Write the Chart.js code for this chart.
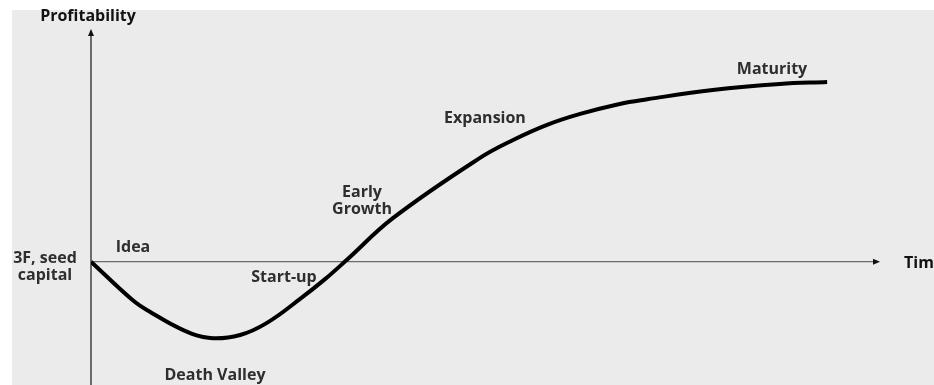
<!DOCTYPE html>
<html>
<head>
<meta charset="utf-8">
<script src="https://cdn.jsdelivr.net/npm/chart.js@4"></script>
<style>
  html, body { margin: 0; padding: 0; background: #fff; }
  #wrap { width: 934px; height: 385px; position: relative; }
</style>
</head>
<body>
<div id="wrap"><canvas id="chartStages"></canvas></div>
<script>
// Startup life cycle: profitability over time
const timeValues = [0, 5.3, 7.5, 11.7, 15.1, 18.9, 22.3, 26.5, 29.7, 32.4, 38.3, 49.3, 53.5, 57.8, 62.0, 67.0, 70.5, 78.8, 87.3, 93.3];
const profitValues = [0, -16.6, -21.6, -29.4, -32.8, -31.5, -26.3, -16.0, -7.4, 0.7, 18.8, 44.6, 52.3, 58.8, 63.5, 67.8, 69.8, 73.8, 76.4, 77.2];
const axisTitles = ['Time', 'Profitability'];
const stageNames = ['Idea', '3F, seed\ncapital', 'Start-up', 'Death Valley', 'Early\nGrowth', 'Expansion', 'Maturity'];

const LABEL_FONT = 'bold 16px "Open Sans", "DejaVu Sans", sans-serif';

// gray panel behind everything
const backdrop = {
  id: 'backdrop',
  beforeDraw(chart) {
    const { ctx, width, height } = chart;
    ctx.save();
    ctx.fillStyle = '#fff';
    ctx.fillRect(0, 0, width, height);
    ctx.fillStyle = '#ebebeb';
    ctx.fillRect(12, 10, width - 12, height - 10);
    ctx.restore();
  }
};

// arrows for both axes, placed from the scales
const arrowAxes = {
  id: 'arrowAxes',
  beforeDatasetsDraw(chart) {
    const { ctx, scales: { x, y } } = chart;
    const x0 = x.getPixelForValue(0);
    const y0 = y.getPixelForValue(0);
    const xEnd = x.getPixelForValue(x.max);
    const yTop = y.getPixelForValue(y.max);
    const yBot = y.getPixelForValue(y.min);
    ctx.save();
    ctx.strokeStyle = '#6b6b6b';
    ctx.lineWidth = 2;
    ctx.beginPath();
    ctx.moveTo(x0, yBot);
    ctx.lineTo(x0, yTop + 6);
    ctx.stroke();
    ctx.lineWidth = 1.3;
    ctx.beginPath();
    ctx.moveTo(x0, y0);
    ctx.lineTo(xEnd - 6, y0);
    ctx.stroke();
    ctx.fillStyle = '#111';
    ctx.beginPath();
    ctx.moveTo(x0, yTop);
    ctx.lineTo(x0 - 3, yTop + 7);
    ctx.lineTo(x0 + 3, yTop + 7);
    ctx.closePath();
    ctx.fill();
    ctx.beginPath();
    ctx.moveTo(xEnd, y0);
    ctx.lineTo(xEnd - 7, y0 - 3);
    ctx.lineTo(xEnd - 7, y0 + 3);
    ctx.closePath();
    ctx.fill();
    ctx.restore();
  }
};

// stage labels and axis titles
const stageLabels = {
  id: 'stageLabels',
  afterDatasetsDraw(chart) {
    const { ctx } = chart;
    const spots = [
      [133, 247], [45, 258], [284, 277], [215, 375], [362, 192], [485, 118], [772, 69]
    ];
    ctx.save();
    ctx.font = LABEL_FONT;
    ctx.textAlign = 'center';
    ctx.textBaseline = 'middle';
    ctx.fillStyle = '#2e2e2e';
    stageNames.forEach((name, i) => {
      const [px, py] = spots[i];
      name.split('\n').forEach((line, j) => ctx.fillText(line, px, py + j * 17));
    });
    ctx.fillStyle = '#111';
    ctx.fillText(axisTitles[1], 88, 16);
    ctx.textAlign = 'left';
    ctx.fillText(axisTitles[0], 904, 263);
    ctx.restore();
  }
};

new Chart(document.getElementById('chartStages').getContext('2d'), {
  type: 'line',
  data: {
    datasets: [{
      label: 'Profitability',
      data: timeValues.map((t, i) => ({ x: t, y: profitValues[i] })),
      borderColor: '#000',
      borderWidth: 4,
      pointRadius: 0,
      tension: 0.4,
      fill: false
    }]
  },
  options: {
    responsive: true,
    maintainAspectRatio: false,
    animation: false,
    layout: { padding: { left: 91, right: 54, top: 29, bottom: 0 } },
    plugins: { legend: { display: false }, tooltip: { enabled: false } },
    scales: {
      x: { type: 'linear', min: 0, max: 100, display: false },
      y: { min: -53, max: 100, display: false }
    }
  },
  plugins: [backdrop, arrowAxes, stageLabels]
});
</script>
</body>
</html>
